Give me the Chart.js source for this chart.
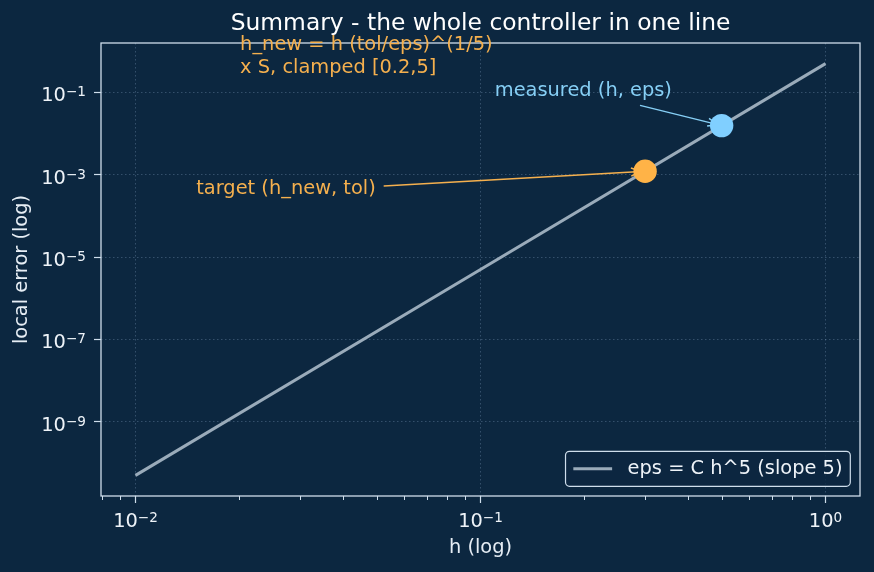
<!DOCTYPE html>
<html>
<head>
<meta charset="utf-8">
<script src="https://cdn.jsdelivr.net/npm/chart.js@4.4.1/dist/chart.umd.min.js"></script>
<style>
  body { margin: 0; background: #0c2740; }
  canvas { display: block; }
</style>
</head>
<body>
<canvas id="myChart" width="874" height="572"></canvas>
<script>
// data
const hLine = [0.01, 0.1, 1];
const epsLine = [5e-11, 5e-6, 0.5];
const measured = [0.5, 0.0156];
const target = [0.3, 0.00122];

const xMajor = [0.01, 0.1, 1];
const xMinor = [0.008, 0.009, 0.02, 0.03, 0.04, 0.05, 0.06, 0.07, 0.08, 0.09,
                0.2, 0.3, 0.4, 0.5, 0.6, 0.7, 0.8, 0.9];
const yMajor = [1e-9, 1e-7, 1e-5, 1e-3, 1e-1];

const titleText = "Summary - the whole controller in one line";
const legendText = "eps = C h^5 (slope 5)";

// annotation anchors (data coords)
const notes = [
  { lines: ["h_new = h (tol/eps)^(1/5)", "x S, clamped [0.2,5]"], x: 0.0201, y: 1.38, color: "#f5b04e" },
  { lines: ["measured (h, eps)"], x: 0.11, y: 0.111, color: "#86cff5", from: [0.29, 0.0484], to: measured },
  { lines: ["target (h_new, tol)"], x: 0.015, y: 4.45e-4, color: "#f5b04e", from: [0.0524, 5.35e-4], to: target }
];

const BG = "#0c2740";
const FG = "#cfdeec";
const TXT = "#eef3f8";
const LINE = "#9aabba";
const BLUE = "#80cfff";
const ORANGE = "#ffb347";
const FONT = "DejaVu Sans";

Chart.defaults.font.family = FONT;

function isMajor(v) {
  const l = Math.log10(v);
  return Math.abs(l - Math.round(l)) < 1e-6;
}
function expo(v) {
  return String(Math.round(Math.log10(v))).replace("-", "\u2212");
}
// "10" with a raised exponent, like mathtext
function powText(c, v, x, base, align) {
  c.font = "19.4px '" + FONT + "'";
  const w1 = c.measureText("10").width;
  c.font = "13.6px '" + FONT + "'";
  const w2 = c.measureText(expo(v)).width;
  let x0 = align === "right" ? x - w1 - w2 : x - (w1 + w2) / 2;
  c.textAlign = "left";
  c.textBaseline = "alphabetic";
  c.font = "19.4px '" + FONT + "'";
  c.fillText("10", x0, base);
  c.font = "13.6px '" + FONT + "'";
  c.fillText(expo(v), x0 + w1, base - 5);
}

function arrow(ctx, x1, y1, x2, y2, color) {
  const a = Math.atan2(y2 - y1, x2 - x1);
  const ex = x2 - 4 * Math.cos(a), ey = y2 - 4 * Math.sin(a);
  ctx.strokeStyle = color;
  ctx.lineWidth = 1.5;
  ctx.beginPath();
  ctx.moveTo(x1, y1);
  ctx.lineTo(ex, ey);
  ctx.stroke();
  const hl = 10, hw = 4;
  ctx.beginPath();
  ctx.moveTo(ex - hl * Math.cos(a) - hw * Math.sin(a), ey - hl * Math.sin(a) + hw * Math.cos(a));
  ctx.lineTo(ex, ey);
  ctx.lineTo(ex - hl * Math.cos(a) + hw * Math.sin(a), ey - hl * Math.sin(a) - hw * Math.cos(a));
  ctx.stroke();
}

const deco = {
  id: "deco",
  beforeDraw(chart) {
    const c = chart.ctx;
    c.save();
    c.fillStyle = BG;
    c.fillRect(0, 0, chart.width, chart.height);
    c.restore();
  },
  beforeDatasetsDraw(chart) {
    const c = chart.ctx, xs = chart.scales.x, ys = chart.scales.y;
    c.save();
    notes.forEach(n => {
      if (!n.from) return;
      arrow(c, xs.getPixelForValue(n.from[0]), ys.getPixelForValue(n.from[1]),
        xs.getPixelForValue(n.to[0]), ys.getPixelForValue(n.to[1]), n.color);
    });
    c.restore();
  },
  afterDraw(chart) {
    const c = chart.ctx, a = chart.chartArea, xs = chart.scales.x, ys = chart.scales.y;
    c.save();
    // frame
    c.strokeStyle = FG;
    c.lineWidth = 1.3;
    c.strokeRect(a.left, a.top, a.right - a.left, a.bottom - a.top);
    // minor x ticks
    c.lineWidth = 1;
    xMinor.forEach(v => {
      const px = Math.round(xs.getPixelForValue(v)) + 0.5;
      c.beginPath();
      c.moveTo(px, a.bottom);
      c.lineTo(px, a.bottom + 4);
      c.stroke();
    });
    // tick labels
    c.fillStyle = TXT;
    xMajor.forEach(v => powText(c, v, xs.getPixelForValue(v), a.bottom + 31.3, "center"));
    yMajor.forEach(v => powText(c, v, a.left - 15, ys.getPixelForValue(v) + 9, "right"));
    // title
    c.fillStyle = "#ffffff";
    c.font = "23.4px '" + FONT + "'";
    c.textAlign = "center";
    c.textBaseline = "middle";
    c.fillText(titleText, (a.left + a.right) / 2, 24);
    // annotation texts
    c.font = "19.4px '" + FONT + "'";
    c.textAlign = "left";
    notes.forEach(n => {
      c.fillStyle = n.color;
      const x = xs.getPixelForValue(n.x), y = ys.getPixelForValue(n.y);
      n.lines.forEach((t, i) => c.fillText(t, x, y + i * 23));
    });
    // legend
    const tw = c.measureText(legendText).width;
    const w = 7.8 + 38.8 + 15.5 + tw + 7.8, h = 35;
    const bx = a.right - 9.7 - w, by = a.bottom - 9.7 - h;
    c.beginPath();
    c.roundRect(bx, by, w, h, 4);
    c.fillStyle = "rgba(12,39,64,0.8)";
    c.fill();
    c.strokeStyle = FG;
    c.lineWidth = 1.2;
    c.stroke();
    c.strokeStyle = LINE;
    c.lineWidth = 3;
    c.beginPath();
    c.moveTo(bx + 7.8, by + h / 2);
    c.lineTo(bx + 7.8 + 38.8, by + h / 2);
    c.stroke();
    c.fillStyle = TXT;
    c.fillText(legendText, bx + 7.8 + 38.8 + 15.5, by + h / 2);
    c.restore();
  }
};

const gridCol = ctx => (ctx.tick && isMajor(ctx.tick.value)) ? "rgba(140,170,200,0.4)" : "rgba(0,0,0,0)";
const tickCol = ctx => (ctx.tick && isMajor(ctx.tick.value)) ? FG : "rgba(0,0,0,0)";

const graph = new Chart("myChart", {
  type: "scatter",
  data: {
    datasets: [
      { label: "measured", data: [{ x: measured[0], y: measured[1] }], backgroundColor: BLUE,
        borderWidth: 0, pointRadius: 11.7, order: 1 },
      { label: "target", data: [{ x: target[0], y: target[1] }], backgroundColor: ORANGE,
        borderWidth: 0, pointRadius: 11.7, order: 1 },
      { label: legendText, type: "line", data: hLine.map((h, i) => ({ x: h, y: epsLine[i] })),
        borderColor: LINE, borderWidth: 3, pointRadius: 0, fill: false, showLine: true, order: 2 }
    ]
  },
  options: {
    responsive: false,
    animation: false,
    layout: { padding: { top: 43, right: 14, left: 0, bottom: 0 } },
    plugins: { legend: { display: false }, tooltip: { enabled: false }, title: { display: false } },
    scales: {
      x: {
        type: "logarithmic",
        min: Math.pow(10, -2.1),
        max: Math.pow(10, 0.1),
        afterBuildTicks: s => { s.ticks = xMajor.concat(xMinor).sort((a, b) => a - b).map(v => ({ value: v })); },
        afterFit: s => { s.height = 76; },
        ticks: { callback: () => "", autoSkip: false, maxRotation: 0 },
        grid: { color: gridCol, tickColor: tickCol, tickLength: 7, lineWidth: 0.8, tickWidth: 1.2 },
        border: { display: false, dash: [1.5, 2.5] },
        title: { display: true, text: "h (log)", color: "#e6edf4", font: { size: 19.4 }, padding: { top: 0, bottom: 12 } }
      },
      y: {
        type: "logarithmic",
        min: Math.pow(10, -10.801),
        max: Math.pow(10, 0.199),
        afterBuildTicks: s => { s.ticks = yMajor.map(v => ({ value: v })); },
        afterFit: s => { s.width = 101; },
        ticks: { callback: () => "", autoSkip: false },
        grid: { color: gridCol, tickColor: tickCol, tickLength: 7, lineWidth: 0.8, tickWidth: 1.2 },
        border: { display: false, dash: [1.5, 2.5] },
        title: { display: true, text: "local error (log)", color: "#e6edf4", font: { size: 19.4 }, padding: { top: 10, bottom: 0 } }
      }
    }
  },
  plugins: [deco]
});
</script>
</body>
</html>
